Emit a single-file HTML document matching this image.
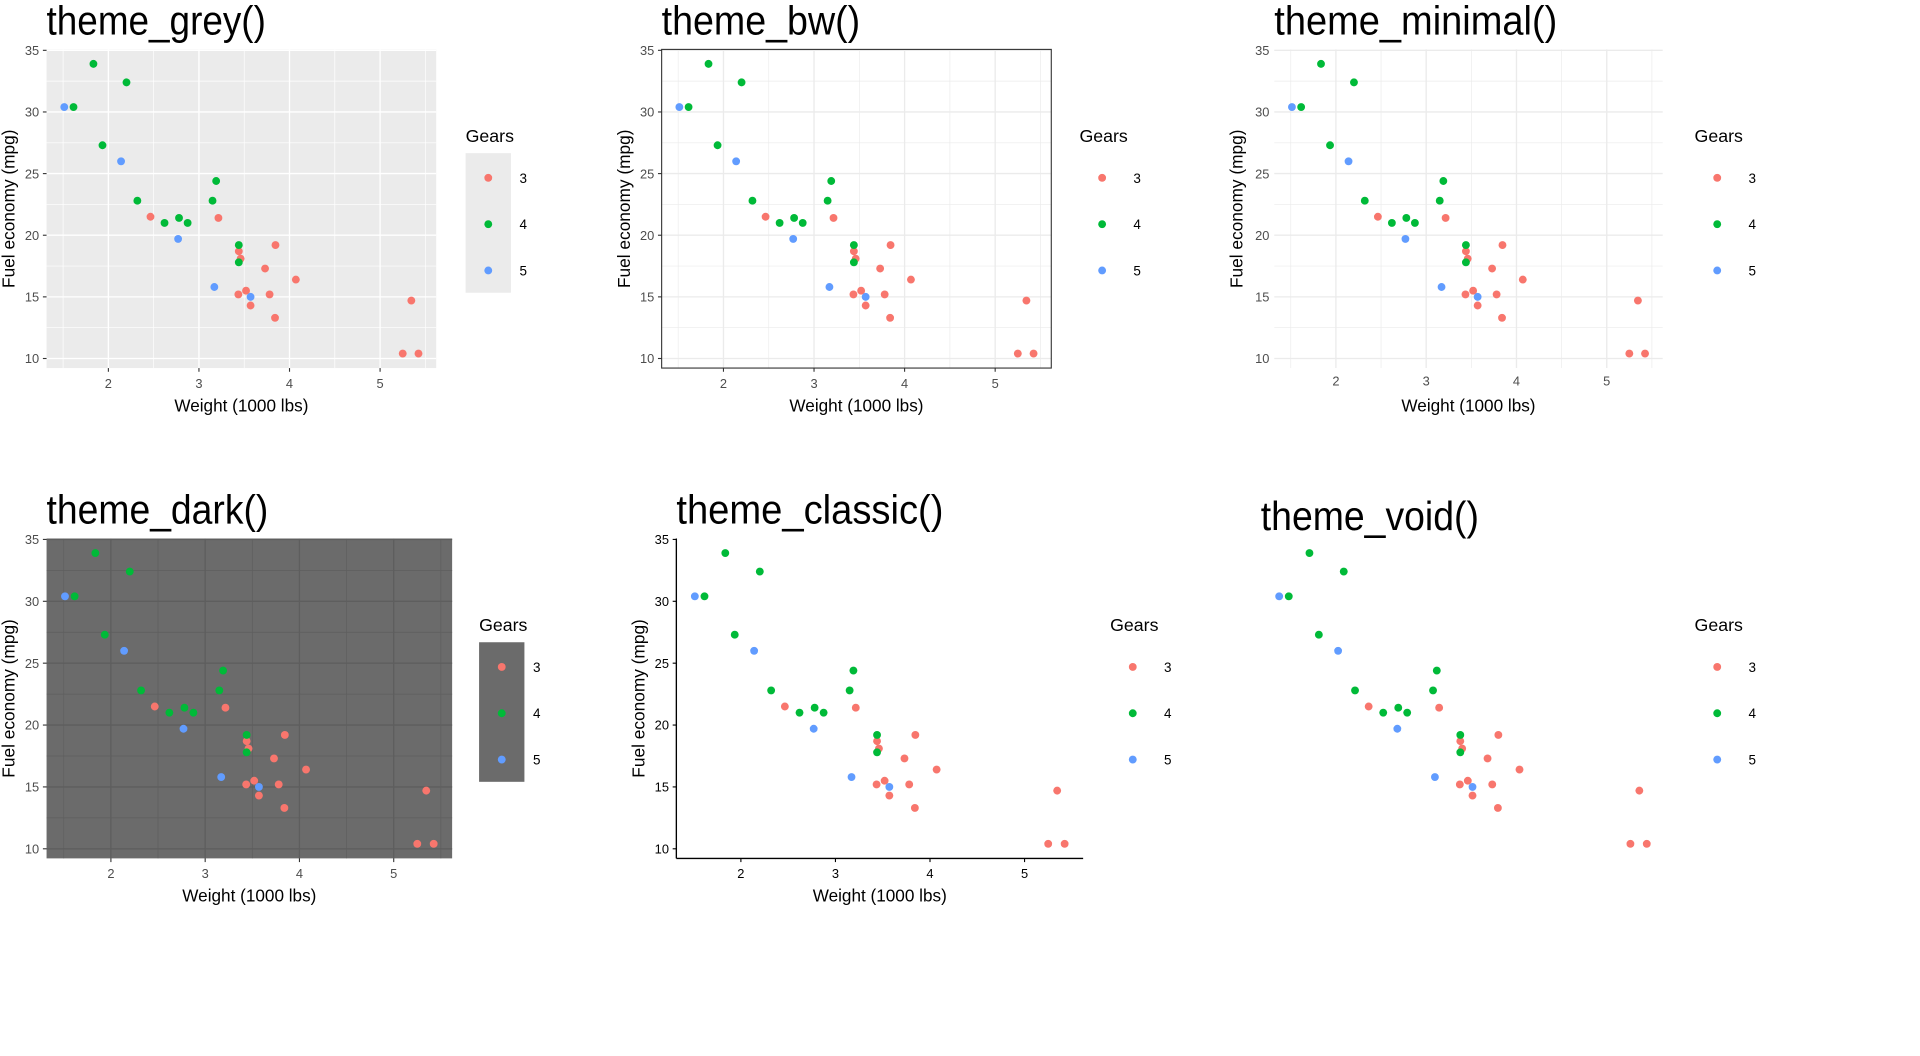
<!DOCTYPE html>
<html><head><meta charset="utf-8"><style>
html,body{margin:0;padding:0;background:#fff;}
svg{display:block;}
text{font-family:"Liberation Sans",sans-serif;}
</style></head><body>
<svg id="chart" width="1920" height="1056" viewBox="0 0 1567 855" preserveAspectRatio="none" xmlns="http://www.w3.org/2000/svg"></svg>
<script>
// mtcars data
const carWeights = [2.620,2.875,2.320,3.215,3.440,3.460,3.570,3.190,3.150,3.440,3.440,4.070,3.730,3.780,5.250,5.424,5.345,2.200,1.615,1.835,2.465,3.520,3.435,3.840,3.845,1.935,2.140,1.513,3.170,2.770,3.570,2.780];
const carMpg = [21.0,21.0,22.8,21.4,18.7,18.1,14.3,24.4,22.8,19.2,17.8,16.4,17.3,15.2,10.4,10.4,14.7,32.4,30.4,33.9,21.5,15.5,15.2,13.3,19.2,27.3,26.0,30.4,15.8,19.7,15.0,21.4];
const carGears = [4,4,4,3,3,3,3,4,4,4,4,3,3,3,3,3,3,4,4,4,3,3,3,3,3,4,5,5,5,5,5,4];
const gearLevels = [3,4,5];
const xTickLabels = [2,3,4,5];
const yTickLabels = [10,15,20,25,30,35];
const xMinor = [1.5,2.5,3.5,4.5,5.5];
const yMinor = [12.5,17.5,22.5,27.5,32.5];

const gearColors = {3:'#F8766D',4:'#00BA38',5:'#619CFF'};
const NS = 'http://www.w3.org/2000/svg';
const svg = document.getElementById('chart');

function mk(tag, attrs, parent, txt){
  const e = document.createElementNS(NS, tag);
  for (const k in attrs) e.setAttribute(k, attrs[k]);
  if (txt !== undefined) e.textContent = txt;
  (parent||svg).appendChild(e);
  return e;
}

const xmin = Math.min(...carWeights), xmax = Math.max(...carWeights);
const ymin = Math.min(...carMpg), ymax = Math.max(...carMpg);
const xpad = (xmax-xmin)*0.05, ypad = (ymax-ymin)*0.05;

const panels = [
  {id:'grey', title:'theme_grey()', x0:38, x1:356, y0:40, y1:298, tl:179, ty:28, bg:'#EBEBEB', grid:'#FFFFFF', ticks:'#333333', lab:'#4D4D4D', legX:380, keyBg:'#EBEBEB', border:false, axisLines:false, axes:true},
  {id:'bw', title:'theme_bw()', x0:540, x1:858, y0:40, y1:298, tl:162, ty:28, bg:'#FFFFFF', grid:'#EBEBEB', ticks:'#333333', lab:'#4D4D4D', legX:881, keyBg:null, border:true, axisLines:false, axes:true},
  {id:'minimal', title:'theme_minimal()', x0:1040, x1:1357, y0:40, y1:298, tl:231, ty:28, bg:null, grid:'#EBEBEB', ticks:null, lab:'#4D4D4D', legX:1383, keyBg:null, border:false, axisLines:false, axes:true},
  {id:'dark', title:'theme_dark()', x0:38, x1:369, y0:436, y1:695, tl:181, ty:424, bg:'#6B6B6B', grid:'#5E5E5E', ticks:'#333333', lab:'#4D4D4D', legX:391, keyBg:'#6B6B6B', border:false, axisLines:false, axes:true},
  {id:'classic', title:'theme_classic()', x0:552, x1:884, y0:436, y1:695, tl:218, ty:424, bg:null, grid:null, ticks:'#000000', lab:'#000000', legX:906, keyBg:null, border:false, axisLines:true, axes:true},
  {id:'void', title:'theme_void()', x0:1029, x1:1359, y0:436, y1:695, tl:178, ty:429, bg:null, grid:null, ticks:null, lab:null, legX:1383, keyBg:null, border:false, axisLines:false, axes:false}
];

panels.forEach(p => {
  const g = mk('g', {});
  
  
  const sx = v => p.x0 + (v - (xmin - xpad)) / ((xmax + xpad) - (xmin - xpad)) * (p.x1 - p.x0);
  const sy = v => p.y1 - (v - (ymin - ypad)) / ((ymax + ypad) - (ymin - ypad)) * (p.y1 - p.y0);

  const t = mk('text', {x:p.x0, y:p.ty, 'font-size':33, fill:'#000', textLength:p.tl, lengthAdjust:'spacingAndGlyphs'}, g, p.title);
  
  

  if (p.bg) {
    const r = mk('rect', {x:p.x0, y:p.y0, width:p.x1-p.x0, height:p.y1-p.y0, fill:p.bg}, g);
    
    
  }
  if (p.grid) {
    xMinor.forEach(v => { const l = mk('line', {x1:sx(v), x2:sx(v), y1:p.y0, y2:p.y1, stroke:p.grid, 'stroke-width':0.55}, g);
        });
    yMinor.forEach(v => { const l = mk('line', {x1:p.x0, x2:p.x1, y1:sy(v), y2:sy(v), stroke:p.grid, 'stroke-width':0.55}, g);
        });
    xTickLabels.forEach(v => { const l = mk('line', {x1:sx(v), x2:sx(v), y1:p.y0, y2:p.y1, stroke:p.grid, 'stroke-width':1.1}, g);
        });
    yTickLabels.forEach(v => { const l = mk('line', {x1:p.x0, x2:p.x1, y1:sy(v), y2:sy(v), stroke:p.grid, 'stroke-width':1.1}, g);
        });
  }
  if (p.border) {
    const b = mk('rect', {x:p.x0, y:p.y0, width:p.x1-p.x0, height:p.y1-p.y0, fill:'none', stroke:'#333333', 'stroke-width':0.9}, g);
    
    
  }
  if (p.axisLines) {
    const a1 = mk('line', {x1:p.x0, x2:p.x0, y1:p.y0, y2:p.y1, stroke:'#000', 'stroke-width':1.1}, g);
     
    const a2 = mk('line', {x1:p.x0, x2:p.x1, y1:p.y1, y2:p.y1, stroke:'#000', 'stroke-width':1.1}, g);
     
  }
  if (p.axes) {
    yTickLabels.forEach(v => {
      if (p.ticks) { const tk = mk('line', {x1:p.x0-3, x2:p.x0, y1:sy(v), y2:sy(v), stroke:p.ticks, 'stroke-width':0.9}, g);
          }
      const tl = mk('text', {x:p.x0-(p.ticks?6:4), y:sy(v)+3.8, 'font-size':10.5, fill:p.lab, 'text-anchor':'end'}, g, v);
       
    });
    xTickLabels.forEach(v => {
      if (p.ticks) { const tk = mk('line', {x1:sx(v), x2:sx(v), y1:p.y1, y2:p.y1+3, stroke:p.ticks, 'stroke-width':0.9}, g);
          }
      const tl = mk('text', {x:sx(v), y:p.y1+(p.ticks?16:14), 'font-size':10.5, fill:p.lab, 'text-anchor':'middle'}, g, v);
       
    });
    const xt = mk('text', {x:(p.x0+p.x1)/2, y:p.y1+35, 'font-size':14, fill:'#000', 'text-anchor':'middle'}, g, 'Weight (1000 lbs)');
     
    const cy = (p.y0+p.y1)/2, cx = p.x0-26;
    const yt = mk('text', {x:cx, y:cy, 'font-size':14, fill:'#000', 'text-anchor':'middle', transform:`rotate(-90 ${cx} ${cy})`}, g, 'Fuel economy (mpg)');
     
  }
  for (let i = 0; i < carWeights.length; i++) {
    const c = mk('circle', {cx:sx(carWeights[i]), cy:sy(carMpg[i]), r:3.2, fill:gearColors[carGears[i]]}, g);
    
    
  }
  // legend
  const lg = mk('g', {}, g);
  
  
  const lt = mk('text', {x:p.legX, y:p.y0+75, 'font-size':14.5, fill:'#000'}, lg, 'Gears');
   
  if (p.keyBg) {
    const kb = mk('rect', {x:p.legX, y:p.y0+84, width:37, height:113, fill:p.keyBg}, lg);
     
  }
  gearLevels.forEach((gv, k) => {
    const ky = p.y0 + 104 + k*37.5;
    const d = mk('circle', {cx:p.legX+18.5, cy:ky, r:3.2, fill:gearColors[gv]}, lg);
     
    const l = mk('text', {x:p.legX+44, y:ky+4, 'font-size':11, fill:'#000'}, lg, gv);
     
  });
});
</script>
</body></html>
